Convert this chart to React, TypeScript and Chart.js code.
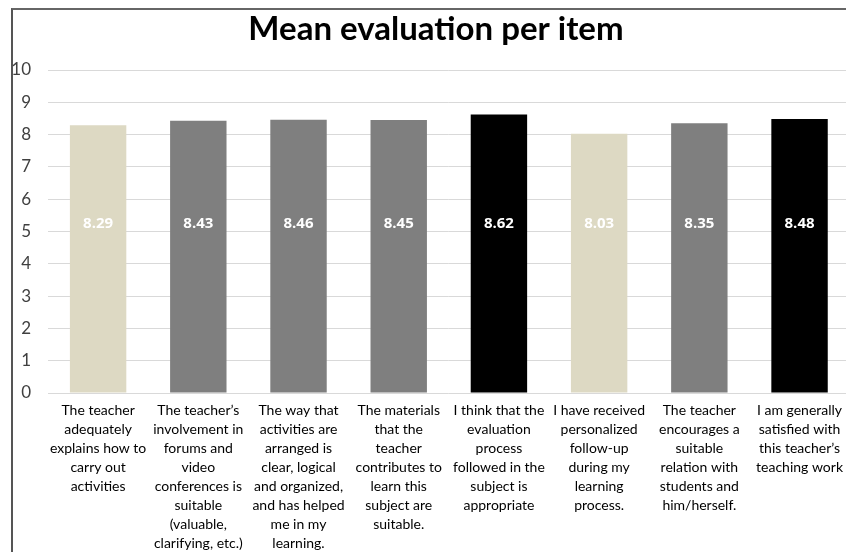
import React, { useEffect, useRef } from "react";
import { Chart, registerables } from "chart.js";

Chart.register(...registerables);

const chartTitle = "Mean evaluation per item";
const categories: string[][] = [
  ["The teacher", "adequately", "explains how to", "carry out", "activities"],
  ["The teacher\u2019s", "involvement in", "forums and", "video", "conferences is", "suitable", "(valuable,", "clarifying, etc.)"],
  ["The way that", "activities are", "arranged is", "clear, logical", "and organized,", "and has helped", "me in my", "learning."],
  ["The materials", "that the", "teacher", "contributes to", "learn this", "subject are", "suitable."],
  ["I think that the", "evaluation", "process", "followed in the", "subject is", "appropriate"],
  ["I have received", "personalized", "follow-up", "during my", "learning", "process."],
  ["The teacher", "encourages a", "suitable", "relation with", "students and", "him/herself."],
  ["I am generally", "satisfied with", "this teacher\u2019s", "teaching work"],
];
const meanValues: number[] = [8.29, 8.43, 8.46, 8.45, 8.62, 8.03, 8.35, 8.48];
const valueLabels: string[] = ["8.29", "8.43", "8.46", "8.45", "8.62", "8.03", "8.35", "8.48"];
const barColors: string[] = ["#ddd9c3", "#7f7f7f", "#7f7f7f", "#7f7f7f", "#000000", "#ddd9c3", "#7f7f7f", "#000000"];
const yTicks: number[] = [0, 1, 2, 3, 4, 5, 6, 7, 8, 9, 10];
const labelLevel = 5.25;

const FONT = "Lato, 'Open Sans', sans-serif";

const valueLabelPlugin = {
  id: "valueLabels",
  afterDatasetsDraw(chart: any) {
    const ctx = chart.ctx;
    const meta = chart.getDatasetMeta(0);
    const yScale = chart.scales.y;
    ctx.save();
    ctx.font = "bold 15px 'Open Sans', sans-serif";
    ctx.fillStyle = "#ffffff";
    ctx.textAlign = "center";
    ctx.textBaseline = "middle";
    meta.data.forEach((bar: any, i: number) => {
      ctx.fillText(valueLabels[i], bar.x, yScale.getPixelForValue(labelLevel));
    });
    ctx.restore();
  },
};

const titlePlugin = {
  id: "customTitle",
  afterDraw(chart: any) {
    const ctx = chart.ctx;
    ctx.save();
    ctx.font = "bold 33px " + FONT;
    ctx.fillStyle = "#000000";
    ctx.textAlign = "center";
    ctx.textBaseline = "middle";
    ctx.fillText(chartTitle, 436, 29);
    ctx.restore();
  },
};

export default function App() {
  const ref = useRef<HTMLCanvasElement | null>(null);
  useEffect(() => {
    if (!ref.current) return;
    const chart = new Chart(ref.current, {
      type: "bar",
      data: {
        labels: categories,
        datasets: [
          {
            data: meanValues,
            backgroundColor: barColors,
            borderWidth: 0,
            barPercentage: 0.563,
            categoryPercentage: 1,
          },
        ],
      },
      options: {
        responsive: false,
        animation: false,
        devicePixelRatio: 1,
        layout: { padding: { left: 0, right: 0, top: 70, bottom: 0 } },
        plugins: {
          legend: { display: false },
          tooltip: { enabled: false },
          title: { display: false },
        },
        scales: {
          x: {
            grid: { display: false, drawTicks: false },
            border: { display: false },
            ticks: {
              color: "#000000",
              font: { family: FONT, size: 14, lineHeight: 1.36 },
              maxRotation: 0,
              minRotation: 0,
              autoSkip: false,
              padding: 8,
            },
            afterFit(scale: any) {
              scale.height = 159;
            },
          },
          y: {
            min: 0,
            max: 10,
            afterBuildTicks(scale: any) {
              scale.ticks = yTicks.map((v) => ({ value: v }));
            },
            grid: { color: "#d9d9d9", lineWidth: 1, drawTicks: false },
            border: { display: false },
            ticks: {
              color: "#404040",
              font: { family: FONT, size: 17 },
              padding: 17,
            },
            afterFit(scale: any) {
              scale.width = 48;
            },
          },
        },
      },
      plugins: [valueLabelPlugin, titlePlugin],
    });
    return () => chart.destroy();
  }, []);

  return (
    <div style={{ position: "fixed", left: 0, top: 0, width: 846, height: 552, overflow: "hidden", background: "#fff" }}>
      <canvas ref={ref} width={851} height={552} style={{ position: "absolute", left: 0, top: 0, width: 851, height: 552 }} />
      <div style={{ position: "absolute", left: 11, top: 8, width: 900, height: 600, borderTop: "2px solid #666", borderLeft: "2px solid #555", pointerEvents: "none" }} />
    </div>
  );
}
